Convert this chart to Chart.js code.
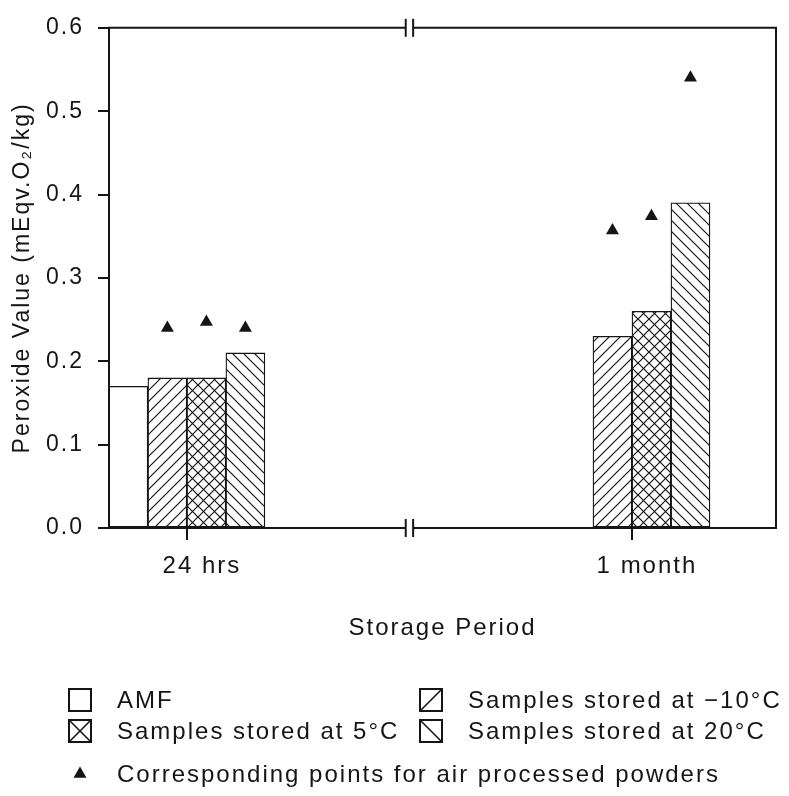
<!DOCTYPE html>
<html><head><meta charset="utf-8">
<script src="https://cdn.jsdelivr.net/npm/chart.js@4"></script>
<style>html,body{margin:0;padding:0;background:#fff}canvas{display:block}</style>
</head><body>
<canvas id="c" width="789" height="796"></canvas>
<script>
// ---- data ----
const categories = ['24 hrs', '1 month'];
const amf = [0.17, null];
const storedMinus10 = [0.18, 0.23];
const stored5 = [0.18, 0.26];
const stored20 = [0.21, 0.39];
const airMinus10 = [0.24, 0.357];
const air5 = [0.247, 0.374];
const air20 = [0.24, 0.54];
const yTicks = [0, 0.1, 0.2, 0.3, 0.4, 0.5, 0.6];
const seriesNames = ['AMF', 'Samples stored at \u221210\u00b0C', 'Samples stored at 5\u00b0C', 'Samples stored at 20\u00b0C'];
const airName = 'Corresponding points for air processed powders';
const xTitle = 'Storage Period';
const yTitle = 'Peroxide Value (mEqv.O\u2082/kg)';

// ---- styling ----
const INK = '#151515';
const FAMILY = '"Liberation Sans", Arial, Helvetica, sans-serif';
Chart.defaults.font.family = FAMILY;
Chart.defaults.color = INK;

const canvas = document.getElementById('c');
const mainCtx = canvas.getContext('2d');
function makePattern(kind) {
  const s = 11;
  const c = document.createElement('canvas'); c.width = s; c.height = s;
  const g = c.getContext('2d');
  g.fillStyle = '#fff'; g.fillRect(0, 0, s, s);
  g.strokeStyle = INK; g.lineWidth = 1.2;
  const fwd = () => { g.beginPath(); g.moveTo(-2, s + 2); g.lineTo(s + 2, -2); g.moveTo(-2, 2); g.lineTo(2, -2); g.moveTo(s - 2, s + 2); g.lineTo(s + 2, s - 2); g.stroke(); };
  const back = () => { g.beginPath(); g.moveTo(-2, -2); g.lineTo(s + 2, s + 2); g.moveTo(-2, s - 2); g.lineTo(2, s + 2); g.moveTo(s - 2, -2); g.lineTo(s + 2, 2); g.stroke(); };
  if (kind === 'fwd' || kind === 'cross') fwd();
  if (kind === 'back' || kind === 'cross') back();
  return mainCtx.createPattern(c, 'repeat');
}
const fills = ['#ffffff', makePattern('fwd'), makePattern('cross'), makePattern('back')];
const swatchKinds = ['none', 'fwd', 'cross', 'back'];

const pts = arr => categories.map((c, i) => ({ x: i + 1, y: arr[i] }));
const barSeries = [amf, storedMinus10, stored5, stored20];
const airSeries = [airMinus10, air5, air20];

const datasets = [];
barSeries.forEach((arr, k) => datasets.push({
  type: 'bar', label: seriesNames[k], data: pts(arr),
  backgroundColor: fills[k], borderColor: INK, borderWidth: 1.3, borderSkipped: false,
  barThickness: 39
}));
airSeries.forEach((arr, k) => datasets.push({
  type: 'line', label: airName, data: pts(arr), showLine: false,
  pointStyle: 'triangle', pointRadius: 7.5, pointHoverRadius: 7.5,
  backgroundColor: INK, borderColor: INK, pointBorderWidth: 0,
  linkedBar: k + 1
}));

// place each air-processed point over its matching bar (x from the bar element, y from the y scale)
const alignPoints = {
  id: 'alignPoints',
  afterDatasetsUpdate(chart) {
    chart.data.datasets.forEach((ds, di) => {
      if (ds.linkedBar === undefined) return;
      const bars = chart.getDatasetMeta(ds.linkedBar).data;
      chart.getDatasetMeta(di).data.forEach((pt, i) => { if (bars[i]) pt.x = bars[i].x; });
    });
  }
};

const spacing = {
  id: 'spacing',
  beforeLayout(c) { c.ctx.letterSpacing = '2px'; },
  beforeDraw(c) { c.ctx.letterSpacing = '2px'; }
};

function line(ctx, x1, y1, x2, y2) { ctx.beginPath(); ctx.moveTo(x1, y1); ctx.lineTo(x2, y2); ctx.stroke(); }

const frame = {
  id: 'frame',
  afterDatasetsDraw(chart) {
    const { ctx, chartArea: { left, right, top, bottom }, scales: { x } } = chart;
    const bx = x.getPixelForValue(1.5);
    const gap = 3.7;
    ctx.save();
    ctx.strokeStyle = INK; ctx.lineWidth = 2; ctx.lineCap = 'butt';
    for (const y of [top, bottom]) {
      line(ctx, left - 1, y, bx - gap, y);
      line(ctx, bx + gap, y, right + 1, y);
      line(ctx, bx - gap, y - 9, bx - gap, y + 9);
      line(ctx, bx + gap, y - 9, bx + gap, y + 9);
    }
    line(ctx, left, top, left, bottom);
    line(ctx, right, top, right, bottom);
    ctx.restore();
  }
};

const legendBox = {
  id: 'legendBox',
  afterDraw(chart) {
    const ctx = chart.ctx;
    const rows = [700, 731, 774];
    const cols = [69, 420];
    const B = 22, GAP = 26;
    ctx.save();
    ctx.letterSpacing = '2px';
    ctx.font = '24px ' + FAMILY;
    ctx.fillStyle = INK; ctx.strokeStyle = INK;
    ctx.textBaseline = 'middle'; ctx.textAlign = 'left';
    seriesNames.forEach((name, k) => {
      const cx = cols[k % 2], cy = rows[Math.floor(k / 2)];
      const x0 = cx, y0 = cy - B / 2;
      ctx.lineWidth = 2;
      ctx.strokeRect(x0, y0, B, B);
      ctx.lineWidth = 1.6;
      const kind = swatchKinds[k];
      if (kind === 'fwd' || kind === 'cross') line(ctx, x0, y0 + B, x0 + B, y0);
      if (kind === 'back' || kind === 'cross') line(ctx, x0, y0, x0 + B, y0 + B);
      ctx.fillText(name, x0 + B + GAP, cy + 1);
    });
    // triangle marker entry
    const tx = cols[0] + B / 2, ty = rows[2], r = 7.5;
    ctx.beginPath();
    ctx.moveTo(tx, ty - r);
    ctx.lineTo(tx + r * Math.sin(2 * Math.PI / 3), ty - r * Math.cos(2 * Math.PI / 3));
    ctx.lineTo(tx + r * Math.sin(4 * Math.PI / 3), ty - r * Math.cos(4 * Math.PI / 3));
    ctx.closePath(); ctx.fill();
    ctx.fillText(airName, cols[0] + B + GAP, ty + 1);
    ctx.restore();
  }
};

new Chart(canvas, {
  type: 'bar',
  data: { datasets },
  options: {
    responsive: false,
    animation: false,
    devicePixelRatio: 1,
    events: [],
    layout: { padding: { left: 0, top: 22, right: 13, bottom: 150 } },
    plugins: { legend: { display: false }, tooltip: { enabled: false } },
    scales: {
      x: {
        type: 'linear', min: 0.825, max: 2.3236, offset: false,
        afterFit(s) { s.height = 118; },
        afterBuildTicks(s) { s.ticks = categories.map((c, i) => ({ value: i + 1 })); },
        grid: { offset: false, drawOnChartArea: false, drawTicks: true, tickLength: 12, color: INK, lineWidth: 2 },
        border: { display: false },
        ticks: {
          callback: v => categories[Math.round(v) - 1],
          labelOffset: 15, padding: 12, maxRotation: 0, autoSkip: false,
          color: INK, font: { size: 24 }
        },
        title: { display: true, text: xTitle, color: INK, font: { size: 24 }, padding: { top: 0, bottom: 3 } }
      },
      y: {
        min: 0, max: 0.6,
        afterFit(s) { s.width = 109; },
        afterBuildTicks(s) { s.ticks = yTicks.map(v => ({ value: v })); },
        grid: { drawOnChartArea: false, drawTicks: true, tickLength: 11, color: INK, lineWidth: 2 },
        border: { display: false },
        ticks: { callback: v => v.toFixed(1), padding: 14, color: INK, font: { size: 23 } },
        title: { display: true, text: yTitle, color: INK, font: { size: 23 }, padding: { top: 9, bottom: 0 } }
      }
    }
  },
  plugins: [spacing, alignPoints, frame, legendBox]
});
</script>
</body></html>
